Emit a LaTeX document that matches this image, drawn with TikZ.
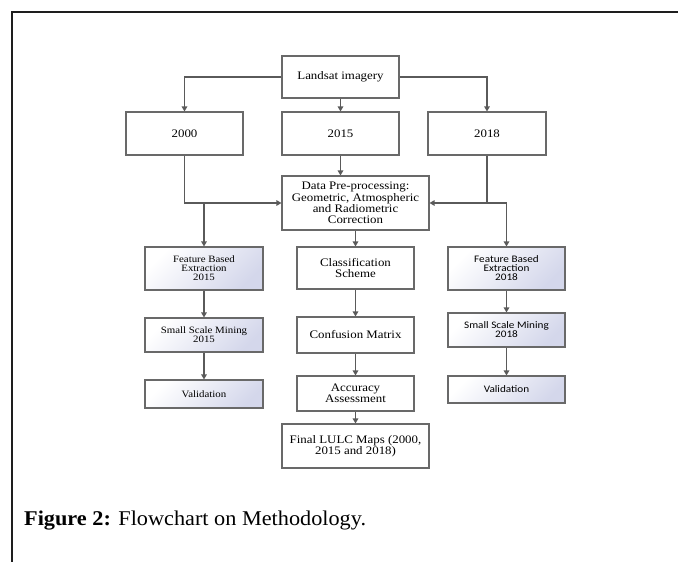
\documentclass[tikz,border=0pt]{standalone}
\usepackage{fontspec}
\setmainfont{Liberation Serif}
\newfontfamily\boxserif[FakeStretch=1.12]{Liberation Serif}
\newfontfamily\sidesans[FakeStretch=1.12]{Carlito}
\newfontfamily\capserif[FakeStretch=1.06]{Liberation Serif}
\usetikzlibrary{arrows.meta}
\definecolor{linegray}{RGB}{90,90,90}
\definecolor{boxgray}{RGB}{105,105,105}
\definecolor{shadeblue}{RGB}{212,215,235}
\definecolor{framegray}{RGB}{30,30,30}
\tikzset{
  x=1pt, y=-1pt,
  box/.style={draw=boxgray, line width=1.1pt, fill=white, inner sep=0pt, align=center,
    font=\boxserif\fontsize{11.5}{11.3}\selectfont},
  sidebox/.style={draw=boxgray, line width=1.1pt, inner sep=0pt, align=center,
    top color=white, bottom color=shadeblue, shading angle=45,
    font=\boxserif\fontsize{9.7}{9}\selectfont},
  sideboxr/.style={sidebox, font=\sidesans\fontsize{10}{9}\selectfont},
  conn/.style={draw=linegray, line width=1.2pt},
  arr/.style={conn, -{Triangle[width=5.5pt,length=5pt]}},
}
\begin{document}
\begin{tikzpicture}
\useasboundingbox (0,0) rectangle (678,562);
% frame
\draw[framegray, line width=2pt] (11.5,563) -- (11.5,12) -- (679,12);

% nodes
\node[box, minimum width=117pt, minimum height=42pt] (land) at (340.5,77) {Landsat imagery};
\node[box, minimum width=117pt, minimum height=43pt] (y2000) at (184.5,133.5) {2000};
\node[box, minimum width=117pt, minimum height=43pt] (y2015) at (340.5,133.5) {2015};
\node[box, minimum width=118pt, minimum height=43pt] (y2018) at (487,133.5) {2018};
\node[box, minimum width=147pt, minimum height=54pt] (pre) at (355.5,203)
  {Data Pre-processing:\\Geometric, Atmospheric\\and Radiometric\\Correction};

\node[sidebox, minimum width=118pt, minimum height=43pt] (fbe1) at (204,268.5)
  {Feature Based\\Extraction\\2015};
\node[sidebox, minimum width=118pt, minimum height=34pt] (ssm1) at (204,335)
  {Small Scale Mining\\2015};
\node[sidebox, minimum width=118pt, minimum height=28pt] (val1) at (204,394)
  {Validation};

\node[box, minimum width=117pt, minimum height=42pt] (cls) at (355.5,268)
  {Classification\\Scheme};
\node[box, minimum width=117pt, minimum height=36pt] (conf) at (355.5,335)
  {Confusion Matrix};
\node[box, minimum width=117pt, minimum height=35pt] (acc) at (355.5,393.5)
  {Accuracy\\Assessment};
\node[box, minimum width=147pt, minimum height=44pt] (fin) at (355.5,446)
  {Final LULC Maps (2000,\\2015 and 2018)};

\node[sideboxr, minimum width=117pt, minimum height=43pt] (fbe2) at (506.5,268.5)
  {Feature Based\\Extraction\\2018};
\node[sideboxr, minimum width=117pt, minimum height=34pt] (ssm2) at (506.5,330)
  {Small Scale Mining\\2018};
\node[sideboxr, minimum width=117pt, minimum height=27pt] (val2) at (506.5,389.5)
  {Validation};

% junction coordinates
\coordinate (jl) at (fbe1.north |- pre.west);
\coordinate (jr) at (fbe2.north |- pre.east);

% connectors
\draw[arr] (land.west) -| (y2000.north);
\draw[arr] (land.east) -| (y2018.north);
\draw[arr] (land.south) -- (y2015.north);
\draw[arr] (y2015.south) -- (y2015.south |- pre.north);
\draw[arr] (y2000.south) |- (pre.west);
\draw[arr] (y2018.south) |- (pre.east);
\draw[conn] (y2018.south |- pre.east) -- (jr);
\draw[arr] (jl) -- (fbe1.north);
\draw[arr] (jr) -- (fbe2.north);
\draw[arr] (pre.south -| cls.north) -- (cls.north);
\draw[arr] (cls) -- (conf);
\draw[arr] (conf) -- (acc);
\draw[arr] (acc) -- (fin);
\draw[arr] (fbe1) -- (ssm1);
\draw[arr] (ssm1) -- (val1);
\draw[arr] (fbe2) -- (ssm2);
\draw[arr] (ssm2) -- (val2);

% caption
\node[anchor=base west, inner sep=0pt, font=\capserif\fontsize{21}{25}\selectfont] (cap) at (24,525)
  {\textbf{Figure 2:} Flowchart on Methodology.};
\end{tikzpicture}
\end{document}
